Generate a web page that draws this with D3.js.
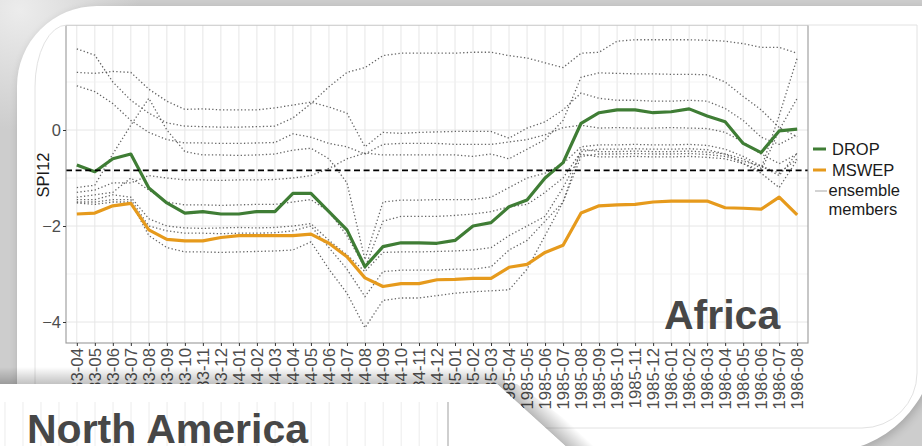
<!DOCTYPE html>
<html>
<head>
<meta charset="utf-8">
<script src="https://cdn.jsdelivr.net/npm/d3@7"></script>
<style>
  html, body { margin: 0; padding: 0; background: #cdcdcd; overflow: hidden; }
  svg { display: block; }
</style>
</head>
<body>
<svg id="chart" width="922" height="446"></svg>
<script>
// ---- data -------------------------------------------------------------
const months = [
  "1983-04","1983-05","1983-06","1983-07","1983-08","1983-09","1983-10","1983-11","1983-12",
  "1984-01","1984-02","1984-03","1984-04","1984-05","1984-06","1984-07","1984-08","1984-09",
  "1984-10","1984-11","1984-12","1985-01","1985-02","1985-03","1985-04","1985-05","1985-06",
  "1985-07","1985-08","1985-09","1985-10","1985-11","1985-12","1986-01","1986-02","1986-03",
  "1986-04","1986-05","1986-06","1986-07","1986-08"
];

const drop = [-0.73,-0.87,-0.60,-0.50,-1.21,-1.52,-1.73,-1.70,-1.75,-1.75,-1.70,-1.70,-1.32,-1.32,
  -1.70,-2.08,-2.85,-2.43,-2.35,-2.35,-2.36,-2.30,-2.00,-1.93,-1.60,-1.46,-1.00,-0.68,0.14,0.36,
  0.42,0.42,0.36,0.38,0.44,0.29,0.17,-0.28,-0.47,-0.02,0.02];

const mswep = [-1.75,-1.73,-1.58,-1.53,-2.08,-2.28,-2.31,-2.31,-2.24,-2.20,-2.20,-2.20,-2.20,-2.17,
  -2.36,-2.64,-3.08,-3.26,-3.20,-3.20,-3.12,-3.11,-3.09,-3.09,-2.86,-2.80,-2.55,-2.40,-1.73,-1.58,
  -1.56,-1.55,-1.50,-1.48,-1.48,-1.48,-1.62,-1.63,-1.65,-1.40,-1.77];

const member1 = [1.69,1.56,1.00,0.62,0.35,0.15,0.08,0.07,0.06,0.06,0.07,0.08,0.25,0.55,0.90,1.20,1.30,
  1.55,1.60,1.60,1.60,1.60,1.62,1.62,1.55,1.50,1.40,1.30,1.60,1.62,1.85,1.88,1.88,1.88,1.88,1.87,
  1.85,1.80,1.72,1.72,1.60];
const member2 = [1.20,1.18,1.22,1.20,0.85,0.60,0.43,0.44,0.42,0.42,0.42,0.46,0.52,0.58,0.48,0.35,-0.35,
  -0.05,-0.07,-0.05,-0.04,-0.03,-0.03,-0.03,-0.17,0.04,0.17,0.42,0.77,0.66,0.62,0.62,0.60,0.60,0.62,
  0.60,0.45,0.20,-0.15,-0.30,-0.10];
const member3 = [0.92,0.80,0.55,0.20,-0.05,-0.20,-0.27,-0.27,-0.28,-0.28,-0.27,-0.26,-0.08,-0.15,-0.28,
  -0.35,-0.50,-0.30,-0.28,-0.28,-0.28,-0.30,-0.30,-0.30,-0.25,-0.20,-0.10,0.05,0.10,0.04,0.05,0.04,
  0.04,0.05,0.04,0.03,-0.05,-0.25,-0.50,-0.70,-0.50];
const member4 = [-1.20,-1.15,-0.50,0.10,0.66,0.00,-0.45,-0.52,-0.52,-0.53,-0.52,-0.50,-0.42,-0.38,-0.60,
  -1.10,-2.70,-1.50,-1.46,-1.46,-1.45,-1.45,-1.45,-1.40,-1.20,-1.00,-0.90,-0.70,-0.35,-0.31,-0.31,
  -0.30,-0.31,-0.31,-0.30,-0.32,-0.40,-0.55,-0.75,-0.95,-0.48];
const member5 = [-1.30,-1.25,-1.10,-1.10,-0.95,-1.00,-1.04,-1.04,-1.05,-1.04,-1.04,-1.03,-1.00,-0.95,
  -0.80,-0.60,-0.48,-0.52,-0.52,-0.52,-0.52,-0.52,-0.55,-0.50,-0.60,-0.40,-0.20,0.20,1.10,1.19,1.18,
  1.17,1.17,1.16,1.16,1.15,1.00,0.70,0.42,0.05,-0.14];
const member6 = [-1.40,-1.35,-1.30,-1.00,-1.25,-1.50,-1.56,-1.56,-1.57,-1.56,-1.55,-1.55,-1.50,-1.45,
  -1.70,-2.20,-2.87,-1.90,-1.80,-1.80,-1.80,-1.78,-1.75,-1.70,-1.60,-1.55,-1.30,-1.00,-0.45,-0.40,
  -0.40,-0.39,-0.40,-0.40,-0.39,-0.41,-0.50,-0.70,-0.90,-1.20,-0.62];
const member7 = [-1.45,-1.45,-1.35,-1.40,-1.85,-2.00,-2.04,-2.05,-2.04,-2.03,-2.04,-2.03,-2.00,-1.95,
  -2.30,-2.60,-2.95,-2.55,-2.54,-2.54,-2.53,-2.52,-2.50,-2.45,-2.20,-2.00,-1.80,-1.20,-0.50,-0.56,
  -0.56,-0.55,-0.56,-0.56,-0.55,-0.57,-0.60,-0.70,-0.85,0.00,0.66];
const member8 = [-1.50,-1.50,-1.45,-1.45,-2.00,-2.10,-2.15,-2.15,-2.16,-2.15,-2.15,-2.14,-2.10,-2.00,
  -2.45,-2.90,-3.47,-2.95,-2.92,-2.92,-2.92,-2.90,-2.90,-2.85,-2.50,-2.30,-1.90,-1.50,-0.40,-0.45,
  -0.45,-0.44,-0.45,-0.45,-0.44,-0.46,-0.50,-0.60,-0.80,0.30,1.50];
const member9 = [-1.52,-1.55,-1.50,-1.50,-2.20,-2.45,-2.54,-2.54,-2.55,-2.54,-2.53,-2.52,-2.50,-2.33,
  -2.90,-3.40,-4.12,-3.55,-3.50,-3.50,-3.45,-3.40,-3.37,-3.35,-3.33,-2.90,-2.20,-1.50,-0.55,-0.50,
  -0.50,-0.49,-0.50,-0.50,-0.49,-0.51,-0.55,-0.65,-0.75,-0.90,-0.60];
const ensemble = [member1, member2, member3, member4, member5, member6, member7, member8, member9];

const droughtLevel = -0.84;
const yMajor = [-4, -2, 0];
const yMinor = [-3, -1, 1];
const yDomain = [-4.4375, 2.1875];
const legendItems = [
  { label: ["DROP"], kind: "drop" },
  { label: ["MSWEP"], kind: "mswep" },
  { label: ["ensemble", "members"], kind: "member" }
];

// ---- layout -----------------------------------------------------------
const W = 922, H = 446;
const panel = { left: 66, right: 808, top: 25, bottom: 343 };
const FONT = "'Liberation Sans', Arial, Helvetica, sans-serif";
const colDrop = "#3f7d35", colMswep = "#e69a1c";

const svg = d3.select("#chart");
const defs = svg.append("defs");

// soft shading behind the card
const glow = defs.append("radialGradient").attr("id", "glow")
  .attr("gradientUnits", "userSpaceOnUse").attr("cx", 20).attr("cy", 10).attr("r", 120);
glow.append("stop").attr("offset", "0").attr("stop-color", "#ececec");
glow.append("stop").attr("offset", "1").attr("stop-color", "#cdcdcd");

defs.append("filter").attr("id", "blur").attr("x", "-10%").attr("y", "-10%")
  .attr("width", "120%").attr("height", "120%")
  .append("feGaussianBlur").attr("stdDeviation", 5);

const topShade = defs.append("linearGradient").attr("id", "topShade")
  .attr("x1", 0).attr("y1", 0).attr("x2", 0).attr("y2", 1);
topShade.append("stop").attr("offset", "0").attr("stop-color", "#000").attr("stop-opacity", 0);
topShade.append("stop").attr("offset", "1").attr("stop-color", "#000").attr("stop-opacity", 0.24);

const curlShade = defs.append("linearGradient").attr("id", "curlShade")
  .attr("gradientUnits", "userSpaceOnUse")
  .attr("x1", 531).attr("y1", 417).attr("x2", 546).attr("y2", 401);
curlShade.append("stop").attr("offset", "0").attr("stop-color", "#000").attr("stop-opacity", 0.3);
curlShade.append("stop").attr("offset", "1").attr("stop-color", "#000").attr("stop-opacity", 0);

svg.append("rect").attr("width", W).attr("height", H).attr("fill", "#cdcdcd");
svg.append("rect").attr("width", 160).attr("height", 130).attr("fill", "url(#glow)");

// card with rounded corners
const cardPath = "M17,86 A80,80 0 0 1 97,6 H960 V342 A110,110 0 0 1 850,452 H17 Z";
const cardPathR = "M17,86 A80,80 0 0 1 97,6 H960 V342 H935 V342 A110,110 0 0 1 825,452 H17 Z";
svg.append("path").attr("d", "M17,86 A80,80 0 0 1 97,6 H935 V342 A110,110 0 0 1 825,452 H17 Z")
  .attr("fill", "#000").attr("opacity", 0.18).attr("filter", "url(#blur)")
  .attr("transform", "translate(2,3)");
svg.append("path").attr("d", "M17,86 A80,80 0 0 1 97,6 H935 V342 A110,110 0 0 1 825,452 H17 Z")
  .attr("fill", "#fff");

// framed figure area
const framePath = "M35,87 A32,62 0 0 1 67,25 H917 V373 A55,55 0 0 1 862,428 H35 Z";
defs.append("clipPath").attr("id", "frameClip").append("path").attr("d", framePath);
const fig = svg.append("g").attr("clip-path", "url(#frameClip)");

// ---- scales -----------------------------------------------------------
const x = d3.scalePoint().domain(months).range([panel.left, panel.right]).padding(0.6);
const y = d3.scaleLinear().domain(yDomain).range([panel.bottom, panel.top]);

// grid
const grid = fig.append("g");
grid.selectAll("line.v").data(months).join("line")
  .attr("x1", d => x(d)).attr("x2", d => x(d))
  .attr("y1", panel.top).attr("y2", panel.bottom)
  .attr("stroke", "#e6e6e6").attr("stroke-width", 1);
grid.selectAll("line.hm").data(yMinor).join("line")
  .attr("x1", panel.left).attr("x2", panel.right)
  .attr("y1", d => y(d)).attr("y2", d => y(d))
  .attr("stroke", "#f0f0f0").attr("stroke-width", 0.8);
grid.selectAll("line.hM").data(yMajor).join("line")
  .attr("x1", panel.left).attr("x2", panel.right)
  .attr("y1", d => y(d)).attr("y2", d => y(d))
  .attr("stroke", "#e6e6e6").attr("stroke-width", 1);

const line = d3.line().x((d, i) => x(months[i])).y(d => y(d));

// ensemble members (dotted)
fig.append("g").selectAll("path").data(ensemble).join("path")
  .attr("d", line).attr("fill", "none")
  .attr("stroke", "#4a4a4a").attr("stroke-opacity", 0.85)
  .attr("stroke-width", 1.3).attr("stroke-dasharray", "1.3 2.3");

// main series
fig.append("path").attr("d", line(mswep)).attr("fill", "none")
  .attr("stroke", colMswep).attr("stroke-width", 3.2).attr("stroke-linejoin", "round");
fig.append("path").attr("d", line(drop)).attr("fill", "none")
  .attr("stroke", colDrop).attr("stroke-width", 3.2).attr("stroke-linejoin", "round");

// drought threshold
fig.append("line")
  .attr("x1", panel.left).attr("x2", panel.right)
  .attr("y1", y(droughtLevel)).attr("y2", y(droughtLevel))
  .attr("stroke", "#000").attr("stroke-width", 1.7).attr("stroke-dasharray", "6 3.6");

// panel border
fig.append("rect")
  .attr("x", panel.left).attr("y", panel.top)
  .attr("width", panel.right - panel.left).attr("height", panel.bottom - panel.top)
  .attr("fill", "none").attr("stroke", "#9a9a9a").attr("stroke-width", 1.1);

// axes
const xAxis = d3.axisBottom(x).tickSize(3).tickPadding(2);
const gx = fig.append("g").attr("transform", `translate(0,${panel.bottom})`).call(xAxis);
gx.select(".domain").remove();
gx.selectAll(".tick line").attr("stroke", "#333");
gx.selectAll(".tick text")
  .attr("font-family", FONT).attr("font-size", 16.8).attr("fill", "#4d4d4d")
  .attr("text-anchor", "end").attr("dy", null)
  .attr("dominant-baseline", "central")
  .attr("transform", "translate(0,5) rotate(-90)")
  .attr("x", 0).attr("y", 0);

const yAxis = d3.axisLeft(y).tickValues(yMajor).tickSize(3).tickPadding(2)
  .tickFormat(d => d3.format("")(d).replace("-", "\u2212"));
const gy = fig.append("g").attr("transform", `translate(${panel.left},0)`).call(yAxis);
gy.select(".domain").remove();
gy.selectAll(".tick line").attr("stroke", "#333");
gy.selectAll(".tick text")
  .attr("font-family", FONT).attr("font-size", 16.5).attr("fill", "#4d4d4d");

fig.append("text")
  .attr("transform", "translate(43,175) rotate(-90)")
  .attr("text-anchor", "middle").attr("dominant-baseline", "central")
  .attr("font-family", FONT).attr("font-size", 16.5).attr("fill", "#1a1a1a")
  .text("SPI12");

// region label
fig.append("text").attr("x", 664).attr("y", 329)
  .attr("font-family", FONT).attr("font-size", 41).attr("font-weight", "bold")
  .attr("fill", "#474747").text("Africa");

// legend
const legend = fig.append("g");
const legendY = [149, 170, 190];
legendItems.forEach((item, i) => {
  const ly = legendY[i];
  if (item.kind === "member") {
    legend.append("line").attr("x1", 815).attr("x2", 827).attr("y1", ly + 1).attr("y2", ly + 1)
      .attr("stroke", "#c4c4c4").attr("stroke-width", 1.5);
  } else {
    legend.append("line").attr("x1", 813).attr("x2", 826).attr("y1", ly).attr("y2", ly)
      .attr("stroke", item.kind === "drop" ? colDrop : colMswep).attr("stroke-width", 3.2);
  }
  item.label.forEach((t, j) => {
    legend.append("text")
      .attr("x", item.kind === "member" ? 828.5 : 832)
      .attr("y", ly + j * 19)
      .attr("dominant-baseline", "central")
      .attr("font-family", FONT).attr("font-size", 16.5).attr("fill", "#1a1a1a")
      .text(t);
  });
});

// frame outline
svg.append("path").attr("d", framePath).attr("fill", "none")
  .attr("stroke", "#e2e2e2").attr("stroke-width", 1);

// ---- overlapping North America sheet ---------------------------------
svg.append("rect").attr("x", 0).attr("y", 367).attr("width", 505).attr("height", 17)
  .attr("fill", "url(#topShade)");
svg.append("path").attr("d", "M497,384 L572,452 L610,452 L517,384 Z")
  .attr("fill", "url(#curlShade)");

const sheetPath = "M-5,384 H497 L572,452 H-5 Z";
defs.append("clipPath").attr("id", "sheetClip").append("path").attr("d", sheetPath);
svg.append("path").attr("d", sheetPath).attr("fill", "#fff");
const sheet = svg.append("g").attr("clip-path", "url(#sheetClip)");

const naPanel = { left: panel.left - 360, right: panel.right - 360, top: 402, bottom: 460 };
const xNA = d3.scalePoint().domain(months).range([naPanel.left, naPanel.right]).padding(0.6);
sheet.selectAll("line.na").data(months).join("line")
  .attr("x1", d => xNA(d)).attr("x2", d => xNA(d))
  .attr("y1", naPanel.top).attr("y2", naPanel.bottom)
  .attr("stroke", "#ececec").attr("stroke-width", 1);
sheet.append("line")
  .attr("x1", naPanel.right).attr("x2", naPanel.right)
  .attr("y1", naPanel.top).attr("y2", naPanel.bottom)
  .attr("stroke", "#a8a8a8").attr("stroke-width", 1.1);
sheet.append("text").attr("x", 27).attr("y", 443)
  .attr("font-family", FONT).attr("font-size", 41).attr("font-weight", "bold")
  .attr("fill", "#474747").text("North America");
</script>
</body>
</html>
